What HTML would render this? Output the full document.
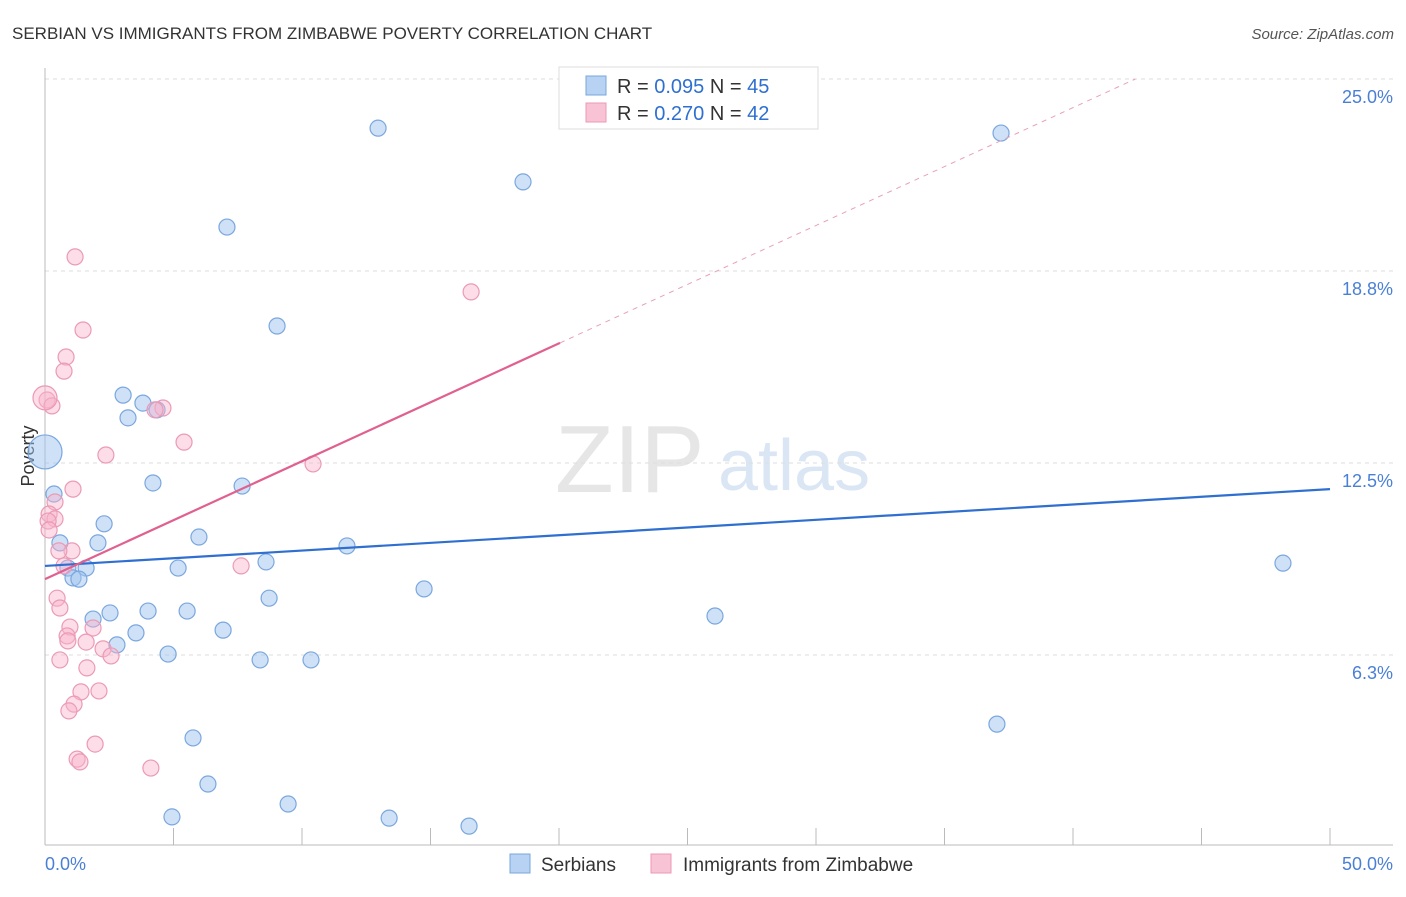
<!DOCTYPE html>
<html><head><meta charset="utf-8"><style>
body{margin:0;background:#fff;font-family:"Liberation Sans",sans-serif}
svg text{font-family:"Liberation Sans",sans-serif}
</style></head><body>
<svg id="c" width="1406" height="892" xmlns="http://www.w3.org/2000/svg">
<text x="12" y="39" font-size="17" fill="#333">SERBIAN VS IMMIGRANTS FROM ZIMBABWE POVERTY CORRELATION CHART</text>
<text x="1394" y="39" font-size="15" fill="#555" font-style="italic" text-anchor="end">Source: ZipAtlas.com</text>
<text x="555" y="492" font-size="96" fill="#e6e6e6" font-family="Liberation Serif">ZIP</text>
<text x="718" y="490" font-size="72" fill="#dbe6f5">atlas</text>
<text transform="translate(34,456) rotate(-90)" font-size="18" fill="#333" text-anchor="middle">Poverty</text>
<g id="grid"></g><g id="pts"></g><g id="lines"></g>
<g>
<rect x="559" y="67" width="259" height="62" fill="#fff" stroke="#ddd"/>
<rect x="586" y="76" width="20" height="19" fill="#b7d2f3" stroke="#7aa7de"/>
<rect x="586" y="103" width="20" height="19" fill="#f8c3d4" stroke="#eb9ab5"/>
<text x="617" y="93" font-size="20" fill="#333">R = <tspan fill="#2f6fd0">0.095</tspan>   N = <tspan fill="#2f6fd0">45</tspan></text>
<text x="617" y="120" font-size="20" fill="#333">R = <tspan fill="#2f6fd0">0.270</tspan>   N = <tspan fill="#2f6fd0">42</tspan></text>
</g>
<rect x="510" y="854" width="20" height="19" fill="#b7d2f3" stroke="#7aa7de"/>
<text x="541" y="871" font-size="19" fill="#333">Serbians</text>
<rect x="651" y="854" width="20" height="19" fill="#f8c3d4" stroke="#eb9ab5"/>
<text x="683" y="871" font-size="19" fill="#333">Immigrants from Zimbabwe</text>
</svg>
<script>
const yTicks=[6.25,12.5,18.75,25];
const yTickLabels=["6.3%","12.5%","18.8%","25.0%"];
const xTickLabels=["0.0%","50.0%"];
const serbX=[12.96,18.6,37.2,7.08,9.03,3.04,3.81,4.36,3.23,4.2,7.67,0.35,2.3,5.99,2.06,0.58,11.75,8.6,48.17,5.18,1.6,0.89,1.09,1.32,14.75,8.72,2.53,4.01,5.53,1.87,6.93,3.54,2.8,4.79,8.37,10.35,26.07,37.04,5.76,6.34,9.46,4.94,13.39,16.5,0];
const serbY=[23.4,21.65,23.24,20.18,16.96,14.71,14.45,14.23,13.97,11.85,11.75,11.49,10.52,10.09,9.9,9.9,9.8,9.28,9.24,9.08,9.08,9.08,8.76,8.72,8.4,8.1,7.62,7.68,7.68,7.42,7.06,6.97,6.58,6.28,6.09,6.09,7.52,4.0,3.55,2.05,1.4,0.98,0.94,0.68,12.86];
const zimX=[1.17,16.58,1.48,0.82,0.74,0.08,0.27,4.59,4.28,5.41,2.37,10.43,1.09,0.39,0.16,0.39,0.12,0.16,1.05,0.54,0.74,7.63,0.47,0.58,0.97,1.87,0.86,0.89,1.6,2.26,2.57,0.58,1.63,2.1,1.4,1.13,0.93,1.95,1.25,1.36,4.12,0];
const zimY=[19.21,18.07,16.83,15.95,15.49,14.55,14.36,14.29,14.23,13.18,12.76,12.47,11.65,11.23,10.84,10.68,10.61,10.32,9.64,9.64,9.15,9.15,8.1,7.78,7.16,7.13,6.87,6.71,6.67,6.45,6.22,6.09,5.83,5.08,5.05,4.65,4.43,3.35,2.86,2.77,2.57,14.62];
const serbTrend=[9.15,11.65];
const zimTrend=[8.72,0.3837];
const NS="http://www.w3.org/2000/svg";
const X=v=>45+v*25.7, Y=v=>847-v*30.72;
function mk(t,a,p){const e=document.createElementNS(NS,t);for(const k in a)e.setAttribute(k,a[k]);p.appendChild(e);return e;}
const grid=document.getElementById('grid');
yTicks.forEach((t,i)=>{
 const l=mk('line',{x1:45,x2:1393,y1:Y(t),y2:Y(t),stroke:'#ddd','stroke-dasharray':'4,4'},grid);
 
 
 const tx=mk('text',{x:1393,y:Y(t)+24,'font-size':18,fill:'#4a7fd6','text-anchor':'end'},grid);tx.textContent=yTickLabels[i];
 
 
});
const ax=mk('line',{x1:45,x2:45,y1:68,y2:845,stroke:'#bbb'},grid);


const bx=mk('line',{x1:45,x2:1393,y1:845,y2:845,stroke:'#bbb'},grid);


for(let i=1;i<=10;i++){const t=mk('line',{x1:X(i*5),x2:X(i*5),y1:828,y2:845,stroke:'#bbb'},grid);
 
 }
[[0,'start',45],[50,'end',1393]].forEach((d,i)=>{const t=mk('text',{x:d[2],y:870,'font-size':18,fill:'#4a7fd6','text-anchor':d[1]},grid);t.textContent=xTickLabels[i];
 
 });
const pts=document.getElementById('pts');
serbX.forEach((x,i)=>{const c=mk('circle',{cx:X(x),cy:Y(serbY[i]),r:x===0?17:8,fill:'rgba(160,195,240,0.5)',stroke:'#7aa7de','stroke-width':1.2},pts);
 
 });
zimX.forEach((x,i)=>{const c=mk('circle',{cx:X(x),cy:Y(zimY[i]),r:x===0?12:8,fill:'rgba(248,180,205,0.45)',stroke:'#eb9ab5','stroke-width':1.2},pts);
 
 });
const lines=document.getElementById('lines');
const bl=mk('line',{x1:X(0),y1:Y(serbTrend[0]),x2:X(50),y2:Y(serbTrend[1]),stroke:'#2f6fd0','stroke-width':2.2},lines);


const zEnd=(25-zimTrend[0])/zimTrend[1];
const pl=mk('line',{x1:X(0),y1:Y(zimTrend[0]),x2:X(20.04),y2:Y(zimTrend[0]+zimTrend[1]*20.04),stroke:'#e0608f','stroke-width':2.2},lines);


const pd=mk('line',{x1:X(20.04),y1:Y(zimTrend[0]+zimTrend[1]*20.04),x2:X(zEnd),y2:Y(25),stroke:'#e8a0b8','stroke-width':1,'stroke-dasharray':'5,5'},lines);


</script>
</body></html>
